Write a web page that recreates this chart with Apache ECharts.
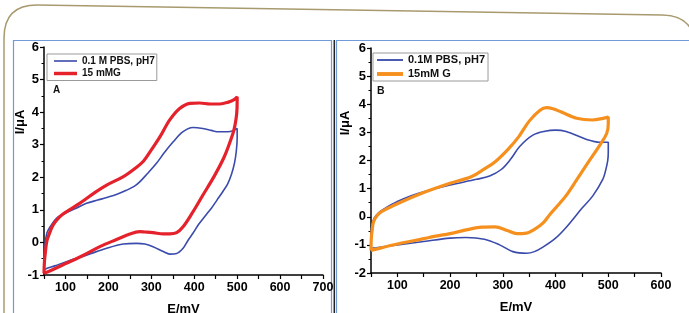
<!DOCTYPE html>
<html>
<head>
<meta charset="utf-8">
<script src="https://cdn.jsdelivr.net/npm/echarts@6/dist/echarts.min.js"></script>
<style>
  html, body { margin: 0; padding: 0; background: #fff; }
  #chart { width: 689px; height: 313px; }
</style>
</head>
<body>
<div id="chart"></div>
<script>
// panel A : 0.1 M PBS vs 15 mM G (red)
const aPbsE = [50, 51, 53, 57, 63, 79, 98, 125, 149, 175, 196, 220, 242, 260, 273, 290, 312, 330, 351, 374, 397, 420, 440, 453, 478, 492, 500,
  500, 498, 494, 487, 478, 466, 453, 440, 430, 410, 397, 385, 374, 359, 343, 328, 304, 285, 265, 235, 196, 149, 102, 75, 56, 50];
const aPbsI = [-0.85, -0.4, 0.0, 0.3, 0.45, 0.74, 0.89, 1.05, 1.2, 1.3, 1.38, 1.48, 1.6, 1.72, 1.86, 2.1, 2.43, 2.75, 3.09, 3.4, 3.53, 3.5, 3.44, 3.4, 3.4, 3.44, 3.5,
  3.2, 2.8, 2.45, 2.1, 1.8, 1.55, 1.3, 1.05, 0.89, 0.55, 0.28, 0.05, -0.18, -0.34, -0.36, -0.28, -0.13, -0.05, -0.03, -0.05, -0.18, -0.39, -0.59, -0.72, -0.8, -0.85];
const aGlyE = [50, 51, 53, 56, 60, 71, 87, 102, 133, 165, 196, 235, 265, 282, 297, 320, 343, 366, 390, 413, 437, 460, 478, 492, 500,
  500, 499, 495, 490, 470, 446, 420, 397, 374, 359, 343, 328, 304, 285, 273, 250, 219, 180, 141, 102, 71, 50];
const aGlyI = [-0.95, -0.6, -0.33, 0.0, 0.18, 0.53, 0.79, 0.94, 1.2, 1.5, 1.76, 2.02, 2.3, 2.5, 2.78, 3.24, 3.76, 4.11, 4.27, 4.28, 4.25, 4.25, 4.3, 4.38, 4.47,
  4.3, 3.96, 3.6, 3.34, 2.63, 2.02, 1.45, 0.94, 0.48, 0.3, 0.26, 0.26, 0.3, 0.32, 0.33, 0.26, 0.09, -0.13, -0.4, -0.64, -0.83, -0.95];

// panel B : 0.1M PBS vs 15 mM G (orange)
const bPbsE = [50, 50.5, 52, 56, 65, 75, 100, 125, 150, 200, 250, 275, 297, 315, 332, 357, 380, 400, 420, 459, 484, 500,
  500, 499, 495, 490, 471, 450, 420, 400, 376, 360, 345, 319, 294, 265, 230, 200, 150, 100, 60, 50];
const bPbsI = [-1.12, -0.6, -0.3, -0.05, 0.15, 0.28, 0.54, 0.74, 0.89, 1.13, 1.33, 1.45, 1.68, 2.05, 2.5, 2.9, 3.04, 3.08, 3.03, 2.75, 2.65, 2.65,
  2.3, 2.0, 1.65, 1.35, 0.75, 0.3, -0.38, -0.76, -1.08, -1.24, -1.3, -1.24, -1.0, -0.8, -0.74, -0.76, -0.88, -1.0, -1.1, -1.12];
const bGlyE = [50, 50.5, 52, 55, 62, 70, 100, 150, 200, 240, 265, 285, 309, 330, 350, 370, 383, 395, 410, 440, 470, 490, 500,
  500, 497, 484, 465, 440, 420, 408, 390, 376, 360, 345, 326, 310, 285, 260, 233, 200, 170, 150, 100, 60, 50];
const bGlyI = [-1.2, -0.8, -0.5, -0.17, 0.05, 0.18, 0.46, 0.86, 1.19, 1.42, 1.7, 1.95, 2.38, 2.84, 3.4, 3.78, 3.88, 3.84, 3.73, 3.5, 3.44, 3.5, 3.55,
  3.3, 2.96, 2.55, 2.02, 1.31, 0.75, 0.48, 0.1, -0.23, -0.45, -0.58, -0.6, -0.5, -0.36, -0.37, -0.46, -0.6, -0.7, -0.78, -0.97, -1.15, -1.2];

const xRangeA = [50, 700];
const yRangeA = [-1, 6];
const xRangeB = [50, 600];
const yRangeB = [-2, 6];

const pairs = (e, i) => e.map((v, k) => [v, i[k]]);

const FONT = '"Liberation Sans", Arial, sans-serif';

const xAxisBase = (range, grid) => ({
  type: 'value', gridIndex: grid, min: range[0], max: range[1], interval: 50,
  axisLine: { onZero: false, lineStyle: { color: '#000', width: 1.5 } },
  axisTick: { length: 4, lineStyle: { color: '#000', width: 1.2 } },
  axisLabel: {
    margin: 6, color: '#000', fontSize: 12.5, fontWeight: 'bold', fontFamily: FONT,
    formatter: v => (v % 100 === 0 ? v : '')
  },
  splitLine: { show: false },
  name: 'E/mV', nameLocation: 'middle', nameGap: 28,
  nameTextStyle: { color: '#000', fontSize: 13, fontWeight: 'bold', fontFamily: FONT }
});

const yAxisBase = (range, grid) => ({
  type: 'value', gridIndex: grid, min: range[0], max: range[1], interval: 1,
  axisLine: { show: true, onZero: false, lineStyle: { color: '#000', width: 1.5 } },
  axisTick: { length: 4, lineStyle: { color: '#000', width: 1.2 } },
  minorTick: { show: true, splitNumber: 2, length: 2.5, lineStyle: { color: '#000', width: 1 } },
  axisLabel: { margin: 5, color: '#000', fontSize: 13, fontWeight: 'bold', fontFamily: FONT },
  splitLine: { show: false }
});

const lineSeries = (name, data, color, width, axis) => ({
  name, type: 'line', data, xAxisIndex: axis, yAxisIndex: axis,
  smooth: 0.35, symbol: 'none', clip: false,
  lineStyle: { color, width },
  itemStyle: { color }
});

// flat bar icons so the legend looks like a plain line sample
const thinIcon = 'path://M0,0H100V7H0Z';
const thickIcon = 'path://M0,0H100V15H0Z';

const legendBase = {
  orient: 'vertical', itemHeight: 12, symbolKeepAspect: true,
  borderColor: '#9a9a9a', borderWidth: 1, borderRadius: 0,
  textStyle: { color: '#111', fontWeight: 'bold', fontSize: 10, lineHeight: 12, fontFamily: FONT }
};

const frameStyle = { fill: 'none', stroke: '#a89a6e', lineWidth: 1.5 };

const chart = echarts.init(document.getElementById('chart'));
chart.setOption({
  animation: false,
  grid: [
    { left: 44, top: 47, width: 279, height: 228, outerBoundsMode: 'none', containLabel: false },
    { left: 371, top: 48, width: 290, height: 225, outerBoundsMode: 'none', containLabel: false }
  ],
  xAxis: [xAxisBase(xRangeA, 0), xAxisBase(xRangeB, 1)],
  yAxis: [yAxisBase(yRangeA, 0), yAxisBase(yRangeB, 1)],
  legend: [
    Object.assign({}, legendBase, {
      left: 47, top: 54, padding: [1, 2, 1, 7], itemGap: 0.5, itemWidth: 23,
      data: [
        { name: '0.1 M PBS, pH7', icon: thinIcon },
        { name: '15 mMG', icon: thickIcon }
      ]
    }),
    Object.assign({}, legendBase, {
      left: 373, top: 53, padding: [1, 3, 1, 4], itemGap: 2, itemWidth: 26,
      textStyle: Object.assign({}, legendBase.textStyle, { fontSize: 11 }),
      data: [
        { name: '0.1M PBS, pH7', icon: thinIcon },
        { name: '15mM G', icon: thickIcon }
      ]
    })
  ],
  series: [
    lineSeries('0.1 M PBS, pH7', pairs(aPbsE, aPbsI), '#3a4bab', 1.6, 0),
    lineSeries('15 mMG', pairs(aGlyE, aGlyI), '#e5222c', 3.2, 0),
    lineSeries('0.1M PBS, pH7', pairs(bPbsE, bPbsI), '#3a4bab', 1.6, 1),
    lineSeries('15mM G', pairs(bGlyE, bGlyI), '#f5901f', 3.2, 1)
  ],
  graphic: [
    // page frame (a little skewed in the scan)
    { type: 'line', silent: true, shape: { x1: 4, y1: 320, x2: 4, y2: 38 }, style: frameStyle },
    { type: 'bezierCurve', silent: true, shape: { x1: 4, y1: 38, cpx1: 4, cpy1: 5, x2: 37, y2: 5 }, style: frameStyle },
    { type: 'line', silent: true, shape: { x1: 37, y1: 5, x2: 662, y2: 15 }, style: frameStyle },
    { type: 'bezierCurve', silent: true, shape: { x1: 662, y1: 15, cpx1: 695, cpy1: 15.5, x2: 695, y2: 48 }, style: frameStyle },
    // panel frames
    { type: 'rect', shape: { x: 13.5, y: 40.5, width: 318, height: 280 }, style: { fill: 'none', stroke: '#6f9cd8', lineWidth: 1.2 }, silent: true },
    { type: 'rect', shape: { x: 336.5, y: 40.5, width: 360, height: 280 }, style: { fill: 'none', stroke: '#6f9cd8', lineWidth: 1.2 }, silent: true },
    { type: 'line', shape: { x1: 334.3, y1: 40, x2: 334.3, y2: 313 }, style: { stroke: '#222', lineWidth: 1.5 }, silent: true },
    // panel letters
    { type: 'text', x: 53, y: 85, style: { text: 'A', fill: '#111', font: 'bold 10px ' + FONT } },
    { type: 'text', x: 377, y: 86, style: { text: 'B', fill: '#111', font: 'bold 10.5px ' + FONT } },
    // y axis titles
    { type: 'text', x: 20, y: 122, rotation: Math.PI / 2,
      style: { text: 'I/\u03bcA', fill: '#000', font: 'bold 13px ' + FONT, textAlign: 'center', textVerticalAlign: 'middle' } },
    { type: 'text', x: 345, y: 123, rotation: Math.PI / 2,
      style: { text: 'I/\u03bcA', fill: '#000', font: 'bold 13px ' + FONT, textAlign: 'center', textVerticalAlign: 'middle' } }
  ]
});
</script>
</body>
</html>
